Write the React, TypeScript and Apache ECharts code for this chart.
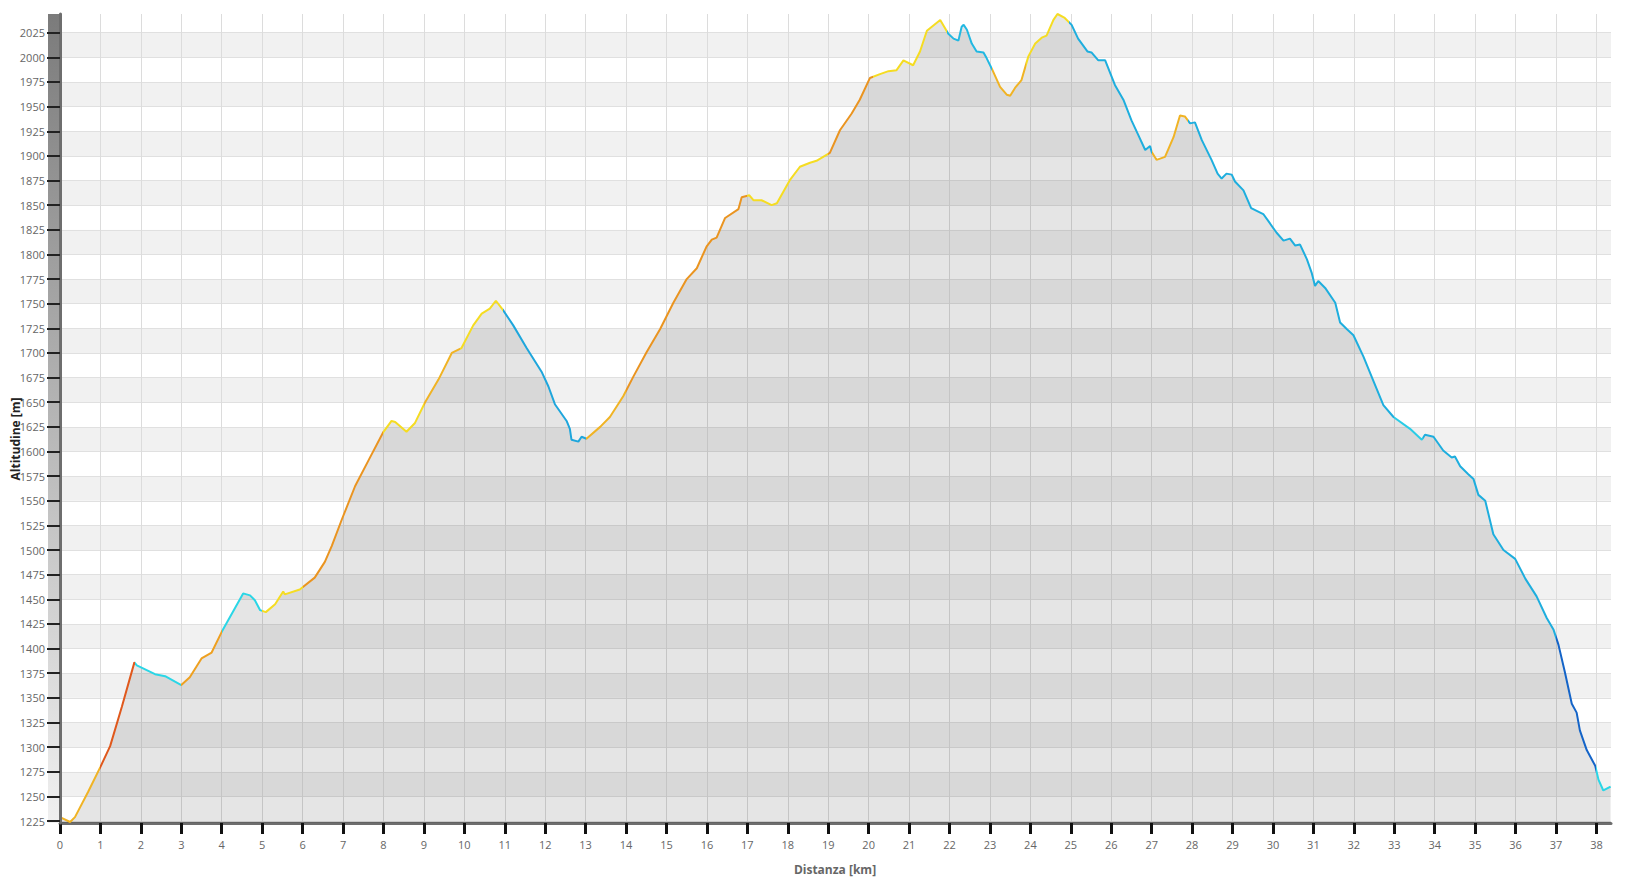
import React, { useEffect, useRef } from "react";
import * as echarts from "echarts";

// Distance along the track [km]
const distKm: number[] = [
  0, 0.25, 0.37, 0.7, 1.0, 1.24, 1.53, 1.84, 1.9, 2.35,
  2.6, 3.0, 3.21, 3.5, 3.75, 4.0, 4.53, 4.7, 4.82, 4.95,
  5.09, 5.32, 5.52, 5.56, 5.93, 6.3, 6.55, 6.72, 6.97, 7.3,
  7.63, 8.0, 8.2, 8.29, 8.57, 8.78, 9.03, 9.36, 9.69, 9.93,
  10.22, 10.43, 10.63, 10.78, 10.95, 11.21, 11.54, 11.91, 12.08, 12.24,
  12.53, 12.61, 12.65, 12.82, 12.9, 13.02, 13.36, 13.6, 13.93, 14.18,
  14.51, 14.84, 15.17, 15.5, 15.75, 15.99, 16.12, 16.24, 16.45, 16.78,
  16.86, 17.05, 17.15, 17.35, 17.6, 17.73, 18.06, 18.3, 18.55, 18.71,
  19.04, 19.29, 19.58, 19.78, 20.03, 20.28, 20.49, 20.69, 20.86, 21.1,
  21.27, 21.44, 21.77, 21.97, 22.1, 22.22, 22.3, 22.35, 22.43, 22.55,
  22.67, 22.84, 22.92, 23.04, 23.25, 23.42, 23.5, 23.62, 23.78, 23.95,
  24.12, 24.28, 24.4, 24.57, 24.67, 24.85, 25.02, 25.18, 25.41, 25.51,
  25.68, 25.85, 26.09, 26.3, 26.5, 26.67, 26.84, 26.96, 27.0, 27.12,
  27.33, 27.54, 27.7, 27.82, 27.95, 28.07, 28.24, 28.48, 28.63, 28.73,
  28.85, 28.98, 29.06, 29.27, 29.46, 29.76, 29.9, 30.09, 30.26, 30.42,
  30.55, 30.67, 30.84, 30.96, 31.04, 31.12, 31.29, 31.54, 31.66, 31.83,
  31.99, 32.24, 32.48, 32.73, 32.98, 33.39, 33.68, 33.76, 33.97, 34.21,
  34.42, 34.5, 34.63, 34.83, 34.96, 35.08, 35.25, 35.45, 35.7, 35.99,
  36.24, 36.52, 36.77, 36.94, 37.06, 37.22, 37.39, 37.51, 37.59, 37.76,
  37.97, 38.05, 38.17, 38.35,
];

// Altitude [m]
const altitudeM: number[] = [
  1229, 1224, 1229, 1255, 1280, 1301, 1341, 1386, 1383, 1374,
  1372, 1363, 1371, 1390, 1396, 1417, 1456, 1454, 1449, 1439,
  1437, 1445, 1458, 1455, 1460, 1472, 1488, 1504, 1531, 1565,
  1591, 1620, 1631, 1630, 1620, 1629, 1650, 1673, 1700, 1705,
  1728, 1740, 1745, 1753, 1744, 1728, 1705, 1681, 1666, 1648,
  1631, 1623, 1612, 1610, 1615, 1613, 1625, 1635, 1656, 1676,
  1701, 1724, 1751, 1775, 1786, 1808, 1815, 1817, 1837, 1846,
  1858, 1860, 1855, 1855, 1850, 1852, 1876, 1889, 1893, 1895,
  1903, 1926, 1943, 1957, 1979, 1983, 1986, 1987, 1997, 1992,
  2006, 2027, 2038, 2024, 2019, 2017, 2031, 2033, 2028, 2014,
  2006, 2005, 1999, 1989, 1970, 1962, 1961, 1969, 1977, 2001,
  2014, 2020, 2022, 2038, 2044, 2040, 2033, 2019, 2006, 2005,
  1997, 1997, 1972, 1957, 1936, 1921, 1906, 1910, 1904, 1896,
  1899, 1919, 1941, 1940, 1933, 1934, 1916, 1896, 1882, 1877,
  1882, 1881, 1874, 1865, 1847, 1841, 1833, 1822, 1814, 1816,
  1809, 1810, 1795, 1781, 1768, 1773, 1766, 1751, 1731, 1724,
  1718, 1696, 1672, 1647, 1635, 1623, 1612, 1617, 1615, 1601,
  1594, 1595, 1585, 1577, 1572, 1556, 1550, 1516, 1500, 1491,
  1471, 1453, 1431, 1419, 1404, 1376, 1344, 1335, 1317, 1297,
  1281, 1267, 1256, 1260,
];

// Slope-class segments of the track: start distance [km] and colour
const segmentStartKm: number[] = [
  0, 1.0, 1.85, 3.0, 4.0, 5.0, 6.0, 8.0, 9.0, 9.9,
  10.95, 13.0, 14.0, 17.0, 19.0, 20.1, 21.95, 23.05, 23.9, 24.95,
  27.0, 27.9, 33.0, 33.7, 37.0, 38.0,
];
const segmentColor: string[] = [
  "#f0b324", "#e0581c", "#2ad6e6", "#eea020", "#2ad6e6", "#f5dc22", "#ea9420", "#f5dc22", "#f0b324", "#f5dc22",
  "#1ea6dc", "#f0b324", "#ea9420", "#f5dc22", "#ea9420", "#f5dc22", "#22b8e2", "#f0b324", "#f5dc22", "#1eaede",
  "#f0b324", "#1eaede", "#2acce6", "#1eaede", "#1464c8", "#2ad6e6",
];

const xTicks: number[] = Array.from({ length: 39 }, (_, i) => i);
const yTicks: number[] = [
  1225, 1250, 1275, 1300, 1325, 1350, 1375, 1400, 1425, 1450, 1475, 1500, 1525,
  1550, 1575, 1600, 1625, 1650, 1675, 1700, 1725, 1750, 1775, 1800, 1825, 1850,
  1875, 1900, 1925, 1950, 1975, 2000, 2025,
];

const X_MAX = 38.36;
const Y_MIN = 1223;
const Y_MAX = 2044;

export default function App() {
  const ref = useRef<HTMLDivElement>(null);

  useEffect(() => {
    if (!ref.current) return;
    const chart = echarts.init(ref.current, undefined, { renderer: "svg" });

    const pieces = segmentStartKm.map((s, i) => {
      const p: any = { gte: s, color: segmentColor[i] };
      if (i < segmentStartKm.length - 1) p.lt = segmentStartKm[i + 1];
      return p;
    });

    const data = distKm.map((d, i) => [d, altitudeM[i]]);
    const labelFont = { color: "#666", fontSize: 11, fontFamily: "Open Sans" };

    const gridLeft = 60;
    const gridTop = 14;
    const gridBottom = 54;
    const gridRight = 27;

    chart.setOption({
      animation: false,
      backgroundColor: "#ffffff",
      grid: { left: gridLeft, right: gridRight, top: gridTop, bottom: gridBottom },
      xAxis: {
        type: "value",
        min: 0,
        max: X_MAX,
        z: 0,
        axisLine: { show: true, onZero: false, lineStyle: { color: "#6e6e6e", width: 3 } },
        axisTick: { show: true, length: 11, customValues: xTicks, lineStyle: { color: "#111", width: 3 } },
        axisLabel: { ...labelFont, margin: 16, customValues: xTicks, formatter: (v: number) => String(v) },
        splitLine: { show: true, lineStyle: { color: "#dcdcdc", width: 1 } },
      },
      yAxis: [
        {
          type: "value",
          min: Y_MIN,
          max: Y_MAX,
          z: 10,
          axisLine: { show: true, onZero: false, lineStyle: { color: "#6e6e6e", width: 3 } },
          axisTick: { show: true, length: 13, customValues: yTicks, lineStyle: { color: "#222", width: 2 } },
          axisLabel: { ...labelFont, margin: 15, customValues: yTicks, formatter: (v: number) => String(v) },
          splitLine: { show: false },
          splitArea: { show: false },
        },
        {
          type: "value",
          min: Y_MIN,
          max: Y_MAX,
          position: "left",
          offset: 0,
          z: 0,
          axisLine: { show: false },
          axisTick: { show: false, customValues: yTicks },
          axisLabel: { show: false, customValues: yTicks },
          splitLine: { show: true, lineStyle: { color: "#e0e0e0", width: 1 } },
          splitArea: { show: true, areaStyle: { color: ["#ffffff", "#f1f1f1"] } },
        },
      ],
      visualMap: {
        type: "piecewise",
        show: false,
        dimension: 0,
        seriesIndex: 0,
        pieces,
      },
      graphic: [
        {
          type: "rect",
          z: 1,
          shape: { x: 48, y: gridTop, width: 12, height: 877 - gridTop - gridBottom },
          style: {
            fill: new echarts.graphic.LinearGradient(0, 0, 0, 1, [
              { offset: 0, color: "#7b7b7b" },
              { offset: 1, color: "#f0f0f0" },
            ]),
          },
        },
        {
          type: "text",
          z: 20,
          x: 15,
          y: 439,
          rotation: Math.PI / 2,
          style: {
            text: "Altitudine [m]",
            font: 'bold 12px "Open Sans"',
            fill: "#222",
            align: "center",
            verticalAlign: "middle",
          },
        },
        {
          type: "text",
          z: 20,
          x: 835,
          y: 869,
          style: {
            text: "Distanza [km]",
            font: 'bold 12px "Open Sans"',
            fill: "#666",
            align: "center",
            verticalAlign: "middle",
          },
        },
      ],
      series: [
        {
          type: "line",
          data,
          yAxisIndex: 0,
          showSymbol: false,
          symbol: "none",
          smooth: false,
          lineStyle: { width: 2 },
          areaStyle: { color: "#000000", opacity: 0.1 },
          z: 3,
        },
      ],
    });

    return () => chart.dispose();
  }, []);

  return (
    <div
      ref={ref}
      style={{ position: "fixed", left: 0, top: 0, width: "1638px", height: "877px" }}
    />
  );
}
